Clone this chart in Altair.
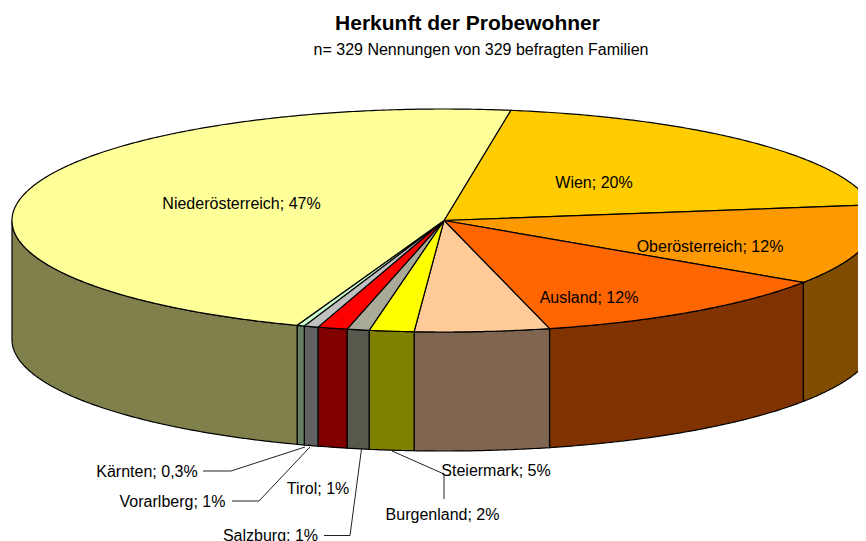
import math
import altair as alt

# Data (percent shares, clockwise from the first slice)
categories = ["Wien", "Oberösterreich", "Ausland", "Steiermark", "Burgenland",
              "Salzburg", "Tirol", "Vorarlberg", "Kärnten", "Niederösterreich"]
shares = [20.3, 11.6, 11.7, 5.03, 1.67, 0.83, 1.11, 0.53, 0.28, 46.95]
percent_text = ["20%", "12%", "12%", "5%", "2%", "1%", "1%", "1%", "0,3%", "47%"]
top_colors = ["#FFCC00", "#FF9900", "#FF6600", "#FFCC99", "#FFFF00",
              "#AAAA99", "#FF0000", "#C0C0C0", "#CCFFCC", "#FFFF99"]
side_colors = ["#806600", "#804D00", "#803300", "#806650", "#808000",
               "#58584C", "#800000", "#606060", "#668066", "#80804D"]

# Pie geometry, page pixels
CX, CY, RX, RY, DEPTH = 444.0, 220.5, 432.0, 111.5, 119.0
START = 8.9
OFFSET = 8
FONT = "Liberation Sans"


def rim(theta, drop=0.0):
    t = math.radians(theta)
    return [CX + RX * math.sin(t), CY - RY * math.cos(t) + drop]


def arc_points(a, b, drop=0.0):
    n = max(2, int(abs(b - a) * 2))
    return [rim(a + (b - a) * i / n, drop) for i in range(n + 1)]


def polygon(coords, color):
    return {"type": "Feature", "properties": {"color": color},
            "geometry": {"type": "Polygon", "coordinates": [coords + [coords[0]]]}}


total = sum(shares)
tops, sides = [], []
angle = START
for cnt, tc, sc in zip(shares, top_colors, side_colors):
    end = angle + 360.0 * cnt / total
    tops.append(polygon([[CX, CY]] + arc_points(angle, end), tc))
    a, b = max(angle, 90.0), min(end, 270.0)
    if b > a:
        sides.append(polygon(arc_points(a, b) + arc_points(b, a, DEPTH), sc))
    angle = end

projection = alt.Projection(type="identity", scale=1, translate=[-OFFSET, -OFFSET])


def shapes(features):
    return alt.InlineData(values={"type": "FeatureCollection", "features": features},
                          format=alt.DataFormat(property="features", type="json"))


side_layer = alt.Chart(shapes(sides)).mark_geoshape(
    stroke="black", strokeWidth=1.2, clip=True
).encode(color=alt.Color("properties.color:N", scale=None, legend=None)).project(**projection.to_dict())

top_layer = alt.Chart(shapes(tops)).mark_geoshape(
    stroke="black", strokeWidth=1.2, clip=True
).encode(color=alt.Color("properties.color:N", scale=None, legend=None)).project(**projection.to_dict())

# Leader lines
leaders = [
    [[203, 471], [231, 471], [305, 447]],
    [[232, 501], [259, 501], [310, 447]],
    [[324, 535.5], [350, 535.5], [361.5, 449]],
    [[392, 451], [444, 474]],
    [[444, 474], [444, 499]],
]
leader_layer = alt.Chart(shapes([
    {"type": "Feature", "properties": {}, "geometry": {"type": "LineString", "coordinates": c}}
    for c in leaders
])).mark_geoshape(filled=False, stroke="#222222", strokeWidth=1, clip=True).project(**projection.to_dict())

# Label anchor centres, by category
label_pos = {
    "Wien": (594, 183), "Oberösterreich": (710, 247), "Ausland": (589, 298),
    "Steiermark": (496, 471), "Burgenland": (442.5, 515), "Salzburg": (270.5, 535.5),
    "Tirol": (318, 489), "Vorarlberg": (172.5, 502), "Kärnten": (147, 472),
    "Niederösterreich": (241.5, 204),
}
label_rows = [
    {"lon": label_pos[c][0], "lat": label_pos[c][1], "text": f"{c}; {p}"}
    for c, p in zip(categories, percent_text)
]
labels = alt.Chart(alt.Data(values=label_rows)).mark_text(
    font=FONT, fontSize=16, color="black", align="center", baseline="middle"
).encode(longitude="lon:Q", latitude="lat:Q", text="text:N").project(**projection.to_dict())

title_rows = [{"lon": 467.5, "lat": 24, "text": "Herkunft der Probewohner"}]
sub_rows = [{"lon": 481, "lat": 50, "text": "n= 329 Nennungen von 329 befragten Familien"}]
title = alt.Chart(alt.Data(values=title_rows)).mark_text(
    font=FONT, fontSize=21, fontWeight="bold", color="black", align="center", baseline="middle"
).encode(longitude="lon:Q", latitude="lat:Q", text="text:N").project(**projection.to_dict())
subtitle = alt.Chart(alt.Data(values=sub_rows)).mark_text(
    font=FONT, fontSize=16, color="black", align="center", baseline="middle"
).encode(longitude="lon:Q", latitude="lat:Q", text="text:N").project(**projection.to_dict())

chart = alt.layer(side_layer, top_layer, leader_layer, labels, title, subtitle).properties(
    width=850, height=533, padding=0, autosize=alt.AutoSizeParams(type="none")
).configure_view(stroke=None)

chart.save("out.html", embed_options={"renderer": "svg", "actions": False})
